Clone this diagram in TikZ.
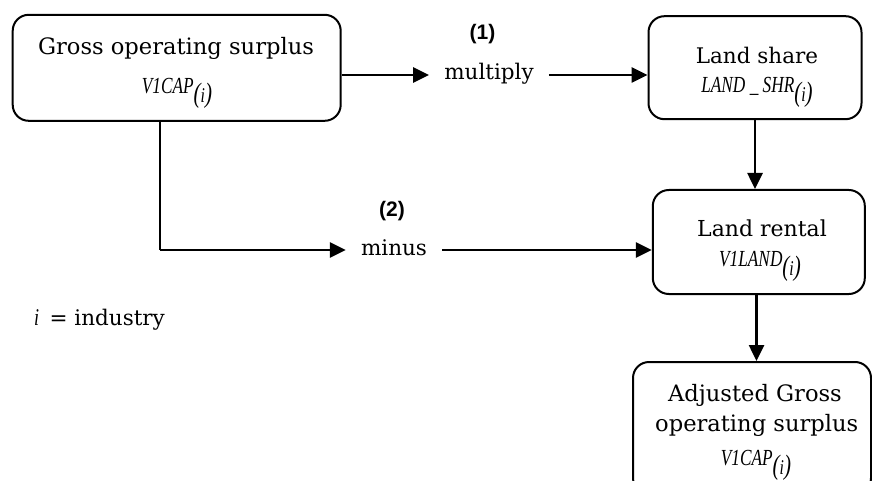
\documentclass[tikz,border=0pt]{standalone}
\usepackage{fontspec}
\setmainfont{DejaVu Serif}
\newfontfamily\eqf[FakeStretch=0.75]{Liberation Serif}
\newfontfamily\lbl{Liberation Sans}
\usetikzlibrary{arrows.meta}
\newcommand{\mainsz}{\fontsize{21.5}{26}\selectfont}
\newcommand{\bigsz}{\fontsize{22.6}{26}\selectfont}
\newcommand{\eqsz}{\fontsize{23}{24}\selectfont}
\newcommand{\parsub}{\raisebox{-8.5pt}{\eqf\fontsize{28}{28}\selectfont(\fontsize{21}{21}\selectfont\itshape i\fontsize{28}{28}\selectfont)}}
\begin{document}
\begin{tikzpicture}[x=1pt,y=-1pt,
  box/.style={draw,line width=2pt,rounded corners=16pt,inner sep=0pt},
  txt/.style={inner sep=0pt,anchor=base,font=\bigsz},
  eq/.style={inner sep=0pt,anchor=base,font=\eqf\eqsz\itshape},
  op/.style={inner xsep=15pt,inner ysep=0pt,font=\mainsz,text height=15pt,text depth=5pt},
  num/.style={inner sep=0pt,font=\lbl\bfseries\fontsize{21}{22}\selectfont},
  arr/.style={line width=2.6pt,-{Triangle[length=16pt,width=15pt]}},
  ln/.style={line width=2.6pt}]
\useasboundingbox (0,0) rectangle (872,481);
\clip (0,0) rectangle (872,481);
% boxes
\node[box,minimum width=328pt,minimum height=106pt] (box1) at (176.7,67.8) {};
\node[box,minimum width=213pt,minimum height=103pt] (box2) at (755,67.7) {};
\node[box,minimum width=212pt,minimum height=104pt] (box3) at (758.8,242) {};
\node[box,minimum width=238pt,minimum height=132pt] (box4) at (752,428) {};
% texts
\node[txt] (t1a) at (176,55) {Gross operating surplus};
\node[eq] (t1b) at (177,94) {V1CAP\parsub};
\node[txt,font=\mainsz] (t2a) at (757,63.3) {Land share};
\node[eq] (t2b) at (757,93) {LAND \_ SHR\parsub};
\node[txt,font=\fontsize{22}{26}\selectfont] (t3a) at (762,236.7) {Land rental};
\node[eq] (t3b) at (760,266.7) {V1LAND\parsub};
\node[txt] (t4a) at (755,401.7) {Adjusted Gross};
\node[txt] (t4b) at (756.7,431) {operating surplus};
\node[eq] (t4c) at (756,465.7) {V1CAP\parsub};
% operations
\node[op] (mult) at (489,75) {multiply};
\node[op] (minus) at (394,250) {minus};
\node[num] (n1) at (482.5,34) {(1)};
\node[num] (n2) at (392,211) {(2)};
% legend
\node[anchor=base west,inner sep=0pt,font=\mainsz] (leg) at (34,325) {{\eqf\itshape\fontsize{24}{24}\selectfont i}\, = industry};
% connectors
\coordinate (k) at (160,250);
\coordinate (v) at (756.5,300);
\draw[arr] (mult.west -| box1.east) -- (mult.west);
\draw[arr] (mult.east) -- (mult.east -| box2.west);
\draw[arr] (box2.south) -- (box2.south |- box3.north);
\draw[ln] (box1.south -| k) -- (k);
\draw[arr] (k) -- (minus.west);
\draw[arr] (minus.east) -- (minus.east -| box3.west);
\draw[arr] (box3.south -| v) -- (box4.north -| v);
\end{tikzpicture}
\end{document}
